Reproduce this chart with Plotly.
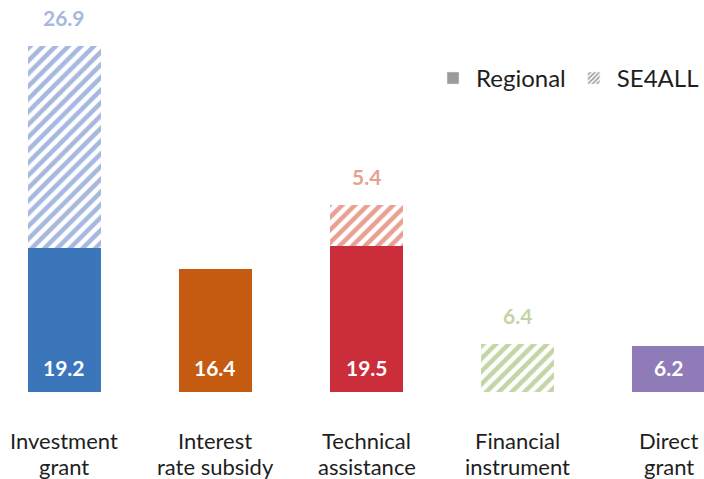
import plotly.graph_objects as go

categories = ["Investment grant", "Interest rate subsidy", "Technical assistance",
              "Financial instrument", "Direct grant"]
cat_line1 = ["Investment", "Interest", "Technical", "Financial", "Direct"]
cat_line2 = ["grant", "rate subsidy", "assistance", "instrument", "grant"]
regional = [19.2, 16.4, 19.5, None, 6.2]
se4all = [26.9, None, 5.4, 6.4, None]

solid_colors = ["#3b76bb", "#c55a11", "#cb2d3b", "#c3d4a5", "#8e7bb7"]
stripe_colors = ["#a6b8e0", "#e8a58f", "#e8a093", "#c3d4a5", "#b9aed6"]

FONT = "Lato"
x = list(range(len(categories)))

fig = go.Figure()
fig.add_trace(go.Bar(
    x=x, y=regional, width=0.483, marker=dict(color=solid_colors, line=dict(width=0)),
    showlegend=False, hoverinfo="skip"))
fig.add_trace(go.Bar(
    x=x, y=se4all, width=0.483,
    marker=dict(color="white", line=dict(width=0),
                pattern=dict(shape="/", fgcolor=stripe_colors, bgcolor="white",
                             size=9, solidity=0.5, fillmode="replace")),
    showlegend=False, hoverinfo="skip"))

# legend proxies
fig.add_trace(go.Bar(x=[None], y=[None], name="Regional", marker=dict(color="#9b9b9b")))
fig.add_trace(go.Bar(x=[None], y=[None], name="SE4ALL",
                     marker=dict(color="white", pattern=dict(shape="/", fgcolor="#9b9b9b",
                                                             bgcolor="white", size=4, solidity=0.5,
                                                             fillmode="replace"))))

annotations = []
for i in x:
    r = regional[i] or 0
    if regional[i]:
        annotations.append(dict(x=i, y=0, text=f"<b>{regional[i]:.1f}</b>", showarrow=False,
                                yanchor="middle", yshift=25,
                                font=dict(family=FONT, size=21, color="white")))
    if se4all[i]:
        annotations.append(dict(x=i, y=r + se4all[i], text=f"<b>{se4all[i]:.1f}</b>", showarrow=False,
                                yanchor="middle", yshift=29,
                                font=dict(family=FONT, size=21, color=stripe_colors[i])))
    for k, line in enumerate((cat_line1[i], cat_line2[i])):
        annotations.append(dict(x=i, y=0, text=line, showarrow=False, yanchor="middle",
                                yshift=-48 - 26 * k, align="center",
                                font=dict(family=FONT, size=22, color="#1e1e1e")))

fig.update_layout(
    width=704, height=479,
    margin=dict(l=0, r=0, t=0, b=87),
    barmode="stack",
    plot_bgcolor="white", paper_bgcolor="white",
    xaxis=dict(range=[-0.427, 4.235], showticklabels=False, showgrid=False, zeroline=False,
               showline=False, fixedrange=True),
    yaxis=dict(range=[0, 52.27], visible=False, fixedrange=True),
    legend=dict(orientation="h", x=1.0, xanchor="right", y=0.8, yanchor="middle",
                font=dict(family=FONT, size=24, color="#1e1e1e"), itemwidth=36,
                traceorder="normal", bgcolor="rgba(0,0,0,0)"),
    annotations=annotations,
    showlegend=True,
)

fig.write_html("out.html", config={"displayModeBar": False},
               post_script="document.body.style.margin='0';")
